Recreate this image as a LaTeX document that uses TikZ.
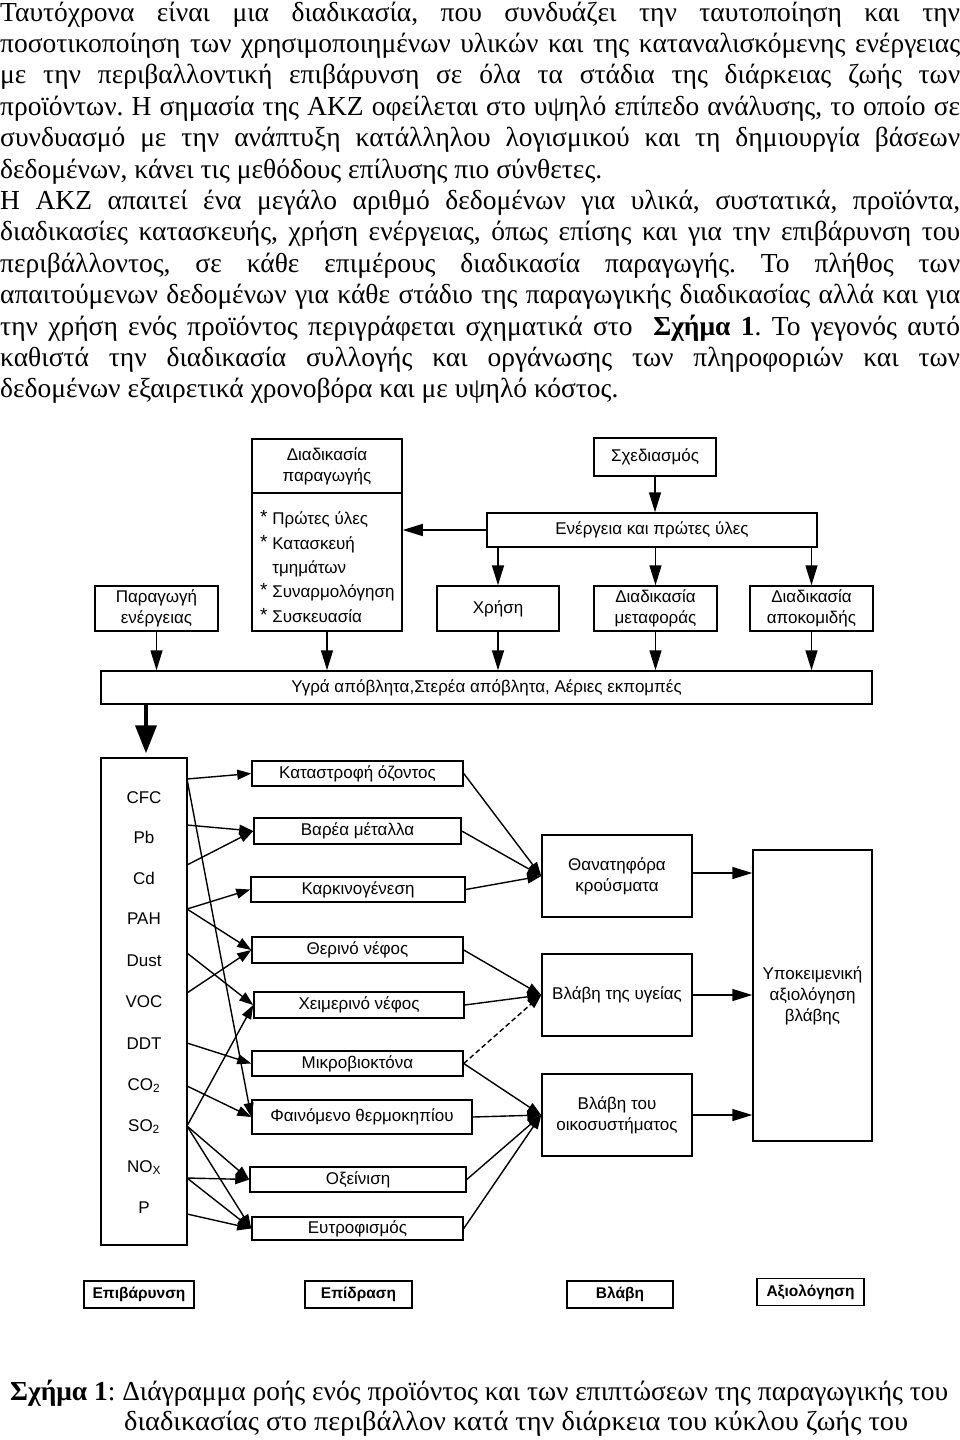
\documentclass[tikz,border=0pt]{standalone}
\usepackage{graphicx}
\usepackage{fontspec}
\setmainfont{Liberation Serif}
\newfontfamily\dsans{Liberation Sans}
\usetikzlibrary{arrows.meta}
\frenchspacing
\newsavebox\jlbox
\newcommand\bodyfont{\fontsize{27.5}{31.4}\selectfont}
\newcommand\dfont{\dsans\fontsize{17}{21}\selectfont}
\newcommand\myast{\raisebox{1pt}{\fontsize{19}{21}\selectfont *}}
% justified body line: name, baseline y, text
\newcommand\jl[3]{\node[anchor=base west, inner sep=0pt, font=\bodyfont] (#1) at (0,#2) {\sbox\jlbox{#3}\ifdim\wd\jlbox>960pt\resizebox{960pt}{\height}{#3}\else\makebox[960pt][s]{#3}\fi};}
% box: name, x1, y1, x2, y2, text
\newcommand\bx[6]{\node[box, minimum width={#4-#2}, minimum height={#5-#3}] (#1) at ({(#2+#4)/2},{(#3+#5)/2}) {#6};}
\begin{document}
\begin{tikzpicture}[x=1pt, y={(0pt,-1pt)},
 box/.style={draw, line width=1.5pt, inner sep=0pt, align=center, font=\dfont},
 lbl/.style={inner sep=0pt, font=\dfont, align=center},
 arr/.style={line width=1.5pt, -{Triangle[length=20pt,width=12pt]}},
 sarr/.style={line width=1.4pt, -{Triangle[length=14pt,width=10pt]}},
 tarr/.style={line width=4pt, -{Triangle[length=28pt,width=21pt]}},
 blbl/.style={draw, line width=1.5pt, inner sep=0pt, font=\dsans\bfseries\fontsize{15.5}{18}\selectfont},
]
\fill[white] (0,0) rectangle (960,1440);
\useasboundingbox (0,0) rectangle (960,1440);

% ---------------- body text ----------------
\jl{t1}{21}{Ταυτόχρονα είναι μια διαδικασία, που συνδυάζει την ταυτοποίηση και την}
\jl{t2}{52.4}{ποσοτικοποίηση των χρησιμοποιημένων υλικών και της καταναλισκόμενης ενέργειας}
\jl{t3}{83.8}{με την περιβαλλοντική επιβάρυνση σε όλα τα στάδια της διάρκειας ζωής των}
\jl{t4}{115.2}{προϊόντων. Η σημασία της ΑΚΖ οφείλεται στο υψηλό επίπεδο ανάλυσης, το οποίο σε}
\jl{t5}{146.6}{συνδυασμό με την ανάπτυξη κατάλληλου λογισμικού και τη δημιουργία βάσεων}
\node[anchor=base west, inner sep=0pt, font=\bodyfont] (t6) at (0,178) {δεδομένων, κάνει τις μεθόδους επίλυσης πιο σύνθετες.};
\jl{t7}{209.4}{Η ΑΚΖ απαιτεί ένα μεγάλο αριθμό δεδομένων για υλικά, συστατικά, προϊόντα,}
\jl{t8}{240.8}{διαδικασίες κατασκευής, χρήση ενέργειας, όπως επίσης και για την επιβάρυνση του}
\jl{t9}{272.2}{περιβάλλοντος, σε κάθε επιμέρους διαδικασία παραγωγής. Το πλήθος των}
\jl{t10}{303.6}{απαιτούμενων δεδομένων για κάθε στάδιο της παραγωγικής διαδικασίας αλλά και για}
\jl{t11}{335}{την χρήση ενός προϊόντος περιγράφεται σχηματικά στο\ \ \textbf{Σχήμα 1}. Το γεγονός αυτό}
\jl{t12}{366.4}{καθιστά την διαδικασία συλλογής και οργάνωσης των πληροφοριών και των}
\node[anchor=base west, inner sep=0pt, font=\bodyfont] (t13) at (0,397.8) {δεδομένων εξαιρετικά χρονοβόρα και με υψηλό κόστος.};

% ---------------- upper diagram ----------------
\bx{proch}{252}{439}{402}{493}{Διαδικασία\\παραγωγής}
\bx{procb}{252}{493}{402}{631}{}
\node[lbl, align=left, anchor=west, font=\dsans\fontsize{17}{24.3}\selectfont] (procl) at (260,566.5)
 {\myast\ Πρώτες ύλες\\\myast\ Κατασκευή\\\phantom{\myast\ }τμημάτων\\\myast\ Συναρμολόγηση\\\myast\ Συσκευασία};
\bx{sxed}{594}{438}{716}{476}{Σχεδιασμός}
\bx{ener}{487}{513}{817}{547}{Ενέργεια και πρώτες ύλες}
\bx{parag}{95}{586}{218}{631}{Παραγωγή\\ενέργειας}
\bx{xrisi}{437}{586}{559}{631}{Χρήση}
\bx{metaf}{594}{586}{717}{631}{Διαδικασία\\μεταφοράς}
\bx{apok}{750}{586}{873}{631}{Διαδικασία\\αποκομιδής}
\bx{waste}{101}{671}{872}{704}{Υγρά απόβλητα,Στερέα απόβλητα, Αέριες εκπομπές}

\draw[arr] (sxed.south) -- (sxed.south |- ener.north);
\draw[arr] (ener.west) -- (ener.west -| procb.east);
\draw[arr] (xrisi.north |- ener.south) -- (xrisi.north);
\draw[arr] (metaf.north |- ener.south) -- (metaf.north);
\draw[arr] (apok.north |- ener.south) -- (apok.north);
\draw[arr] (parag.south) -- (parag.south |- waste.north);
\draw[arr] (procb.south) -- (procb.south |- waste.north);
\draw[arr] (xrisi.south) -- (xrisi.south |- waste.north);
\draw[arr] (metaf.south) -- (metaf.south |- waste.north);
\draw[arr] (apok.south) -- (apok.south |- waste.north);

% ---------------- lower diagram ----------------
\bx{poll}{101}{758}{187}{1245}{}
\draw[tarr, shorten >=4pt] ([xshift=2pt]poll.north |- waste.south) -- ([xshift=2pt]poll.north);

\node[lbl, anchor=base] (pCFC) at (144,803) {CFC};
\node[lbl, anchor=base] (pPb)  at (144,843) {Pb};
\node[lbl, anchor=base] (pCd)  at (144,884) {Cd};
\node[lbl, anchor=base] (pPAH) at (144,924) {PAH};
\node[lbl, anchor=base] (pDust) at (144,966) {Dust};
\node[lbl, anchor=base] (pVOC) at (144,1007) {VOC};
\node[lbl, anchor=base] (pDDT) at (144,1049) {DDT};
\node[lbl, anchor=base] (pCO) at (144,1090) {CO\textsubscript{2}};
\node[lbl, anchor=base] (pSO) at (144,1131) {SO\textsubscript{2}};
\node[lbl, anchor=base] (pNO) at (144,1172) {NO\textsubscript{X}};
\node[lbl, anchor=base] (pP)  at (144,1213) {P};

\coordinate (sCFC) at (187,779);
\coordinate (sPb) at (187,825);
\coordinate (sCd) at (187,865);
\coordinate (sPAH) at (187,909);
\coordinate (sDust) at (187,953);
\coordinate (sVOC) at (187,993);
\coordinate (sDDT) at (187,1043);
\coordinate (sCO) at (187,1086);
\coordinate (sSO) at (187,1126);
\coordinate (sNO) at (187,1178);
\coordinate (sP) at (187,1214);

\bx{e1}{252}{761}{463}{786}{Καταστροφή όζοντος}
\bx{e2}{254}{818}{461}{844}{Βαρέα μέταλλα}
\bx{e3}{251}{877}{465}{902}{Καρκινογένεση}
\bx{e4}{252}{937}{463}{963}{Θερινό νέφος}
\bx{e5}{254}{992}{464}{1018}{Χειμερινό νέφος}
\bx{e6}{252}{1051}{463}{1076}{Μικροβιοκτόνα}
\bx{e7}{252}{1100}{472}{1134}{Φαινόμενο θερμοκηπίου}
\bx{e8}{250}{1167}{466}{1192}{Οξείνιση}
\bx{e9}{252}{1217}{463}{1240}{Ευτροφισμός}

\bx{h1}{542}{835}{692}{917}{Θανατηφόρα\\κρούσματα}
\bx{h2}{542}{954}{692}{1036}{Βλάβη της υγείας}
\bx{h3}{542}{1074}{692}{1156}{Βλάβη του\\οικοσυστήματος}
\bx{yp}{753}{850}{872}{1141}{Υποκειμενική\\αξιολόγηση\\βλάβης}

\draw[sarr] (sCFC) -- (e1.west);
\draw[sarr] (sCFC) -- (e7.west);
\draw[sarr] (sPb) -- (e2.west);
\draw[sarr] (sCd) -- (e2.west);
\draw[sarr] (sPAH) -- (e3.west);
\draw[sarr] (sPAH) -- (e4.west);
\draw[sarr] (sDust) -- (e5.west);
\draw[sarr] (sVOC) -- (e4.west);
\draw[sarr] (sDDT) -- (e6.west);
\draw[sarr] (sCO) -- (e7.west);
\draw[sarr] (sSO) -- (e5.west);
\draw[sarr] (sSO) -- (e8.west);
\draw[sarr] (sSO) -- (e9.west);
\draw[sarr] (sNO) -- (e8.west);
\draw[sarr] (sNO) -- (e9.west);
\draw[sarr] (sP) -- (e9.west);

\draw[sarr] (e1.east) -- (h1.west);
\draw[sarr] (e2.east) -- (h1.west);
\draw[sarr] (e3.east) -- (h1.west);
\draw[sarr] (e4.east) -- (h2.west);
\draw[sarr] (e5.east) -- (h2.west);
\draw[sarr, dash pattern=on 5pt off 3pt] (e6.east) -- (h2.west);
\draw[sarr] (e6.east) -- (h3.west);
\draw[sarr] (e7.east) -- (h3.west);
\draw[sarr] (e8.east) -- (h3.west);
\draw[sarr] (e9.east) -- (h3.west);

\draw[arr] ([yshift=3pt]h1.east) -- ([yshift=3pt]h1.east -| yp.west);
\draw[arr] (h2.east) -- (h2.east -| yp.west);
\draw[arr] (h3.east) -- (h3.east -| yp.west);

% ---------------- bottom labels ----------------
\node[blbl, minimum width=110, minimum height=27] (b1) at (139,1294.5) {Επιβάρυνση};
\node[blbl, minimum width=107, minimum height=27] (b2) at (358.5,1294.5) {Επίδραση};
\node[blbl, minimum width=106, minimum height=27] (b3) at (620,1294.5) {Βλάβη};
\node[blbl, minimum width=107, minimum height=27] (b4) at (810.5,1292) {Αξιολόγηση};

% ---------------- caption ----------------
\node[anchor=base west, inner sep=0pt, font=\bodyfont] (c1) at (10,1400)
 {\resizebox{938pt}{\height}{\textbf{Σχήμα 1}: Διάγραμμα ροής ενός προϊόντος και των επιπτώσεων της παραγωγικής του}};
\node[anchor=base west, inner sep=0pt, font=\bodyfont] (c2) at (124,1430)
 {\resizebox{784pt}{\height}{διαδικασίας στο περιβάλλον κατά την διάρκεια του κύκλου ζωής του}};
\end{tikzpicture}
\end{document}
